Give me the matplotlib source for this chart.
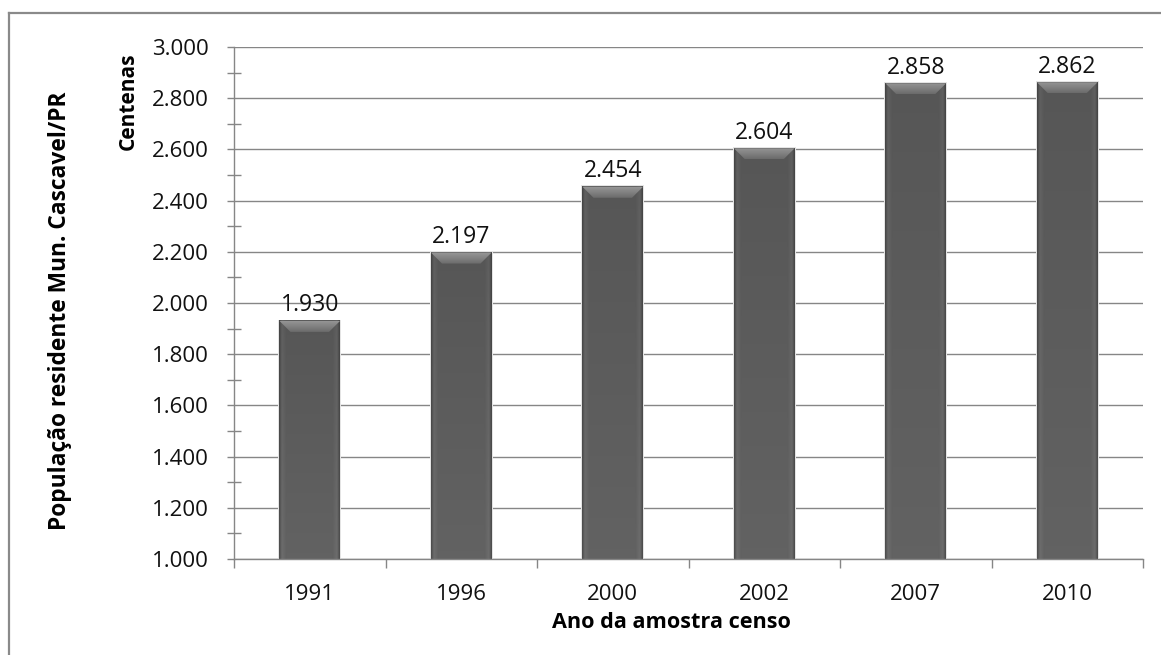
import numpy as np
import matplotlib
matplotlib.use('Agg')
import matplotlib.pyplot as plt
from matplotlib.patches import Polygon, Rectangle
from matplotlib.lines import Line2D
from matplotlib.ticker import FuncFormatter, MultipleLocator, FixedLocator

# data (population, in hundreds)
years = ['1991', '1996', '2000', '2002', '2007', '2010']
population = [1930, 2197, 2454, 2604, 2858, 2862]

y_label = 'População residente Mun. Cascavel/PR'
unit_label = 'Centenas'
x_label = 'Ano da amostra censo'

plt.rcParams['font.family'] = ['Open Sans', 'DejaVu Sans']

W, H = 1161, 655
fig = plt.figure(figsize=(W / 100, H / 100), dpi=100)
ax = fig.add_axes([234 / W, (H - 559) / H, 909 / W, 512 / H])

grey = '#868686'


def thousands(v, pos):
    return f'{int(v):,}'.replace(',', '.')


x = np.arange(len(years))
bar_w = 0.40
bars = ax.bar(x, population, width=bar_w, bottom=0, color='#5c5c5c',
              edgecolor='none', zorder=2)

# horizontal shading profile across each bar (dark edges, lighter inner strip)
t = np.linspace(0, 1, 80)
d = np.minimum(t, 1 - t)
shade = np.where(d < 0.04, 0.30 + d / 0.04 * 0.12,
                 np.where(d < 0.12, 0.43 - (d - 0.04) / 0.08 * 0.05, 0.385))
rows = np.linspace(0.88, 1.0, 40)[:, None]
img = np.clip(shade[None, :] * rows, 0, 1)
rgb = np.dstack([img, img, img])

bevel_dx = 0.073
bevel_dy = 43
bevel_grad = np.linspace(0.60, 0.42, 30)[:, None] * np.ones((1, 10))
bevel_rgb = np.dstack([bevel_grad] * 3)

for b in bars:
    x0 = b.get_x()
    x1 = x0 + b.get_width()
    top = b.get_height()
    # soft shadow
    ax.add_patch(Rectangle((x0 - 0.008, 1000), b.get_width() + 0.016, top - 1000 + 5,
                           facecolor='#e4e4e4', edgecolor='none', zorder=1.5))
    ax.imshow(rgb, extent=(x0, x1, 1000, top), aspect='auto', origin='upper',
              interpolation='bilinear', zorder=2.2)
    bevel = Polygon([(x0, top), (x1, top), (x1 - bevel_dx, top - bevel_dy),
                     (x0 + bevel_dx, top - bevel_dy)], closed=True,
                    facecolor='none', edgecolor='none')
    ax.add_patch(bevel)
    im = ax.imshow(bevel_rgb, extent=(x0, x1, top - bevel_dy, top), aspect='auto',
                   origin='upper', interpolation='bilinear', zorder=2.4)
    im.set_clip_path(bevel)
    ax.annotate(thousands(top, None), (b.get_x() + b.get_width() / 2, top),
                xytext=(0, 7), textcoords='offset points', ha='center',
                va='baseline', fontsize=16.6, color='#111111', zorder=3)

ax.set_xlim(-0.5, len(years) - 0.5)
ax.set_ylim(1000, 3000)

# y axis
ax.yaxis.set_major_locator(MultipleLocator(200))
ax.yaxis.set_minor_locator(MultipleLocator(100))
ax.yaxis.set_major_formatter(FuncFormatter(thousands))
ax.tick_params(axis='y', which='major', direction='out', length=5, width=1,
               color=grey, pad=13, labelsize=16, labelcolor='#111111')
ax.tick_params(axis='y', which='minor', direction='inout', length=10, width=1,
               color=grey)
ax.grid(axis='y', which='major', color=grey, linewidth=1.0, zorder=0)
ax.set_axisbelow(True)

# x axis: ticks between categories, labels at centers
ax.xaxis.set_major_locator(FixedLocator(np.arange(len(years) + 1) - 0.5))
ax.xaxis.set_major_formatter(FuncFormatter(lambda v, p: ''))
ax.set_xticks(x, years, minor=True)
ax.tick_params(axis='x', which='major', direction='out', length=6.5, width=1,
               color=grey)
ax.tick_params(axis='x', which='minor', length=0, pad=18, labelsize=16,
               labelcolor='#111111')

for side in ['top', 'right']:
    ax.spines[side].set_visible(False)
for side in ['left', 'bottom']:
    ax.spines[side].set_color(grey)
    ax.spines[side].set_linewidth(1.0)
    ax.spines[side].set_zorder(4)

# axis titles
fig.text(671 / W, 1 - 622 / H, x_label, ha='center', va='center',
         fontsize=15.6, fontweight='bold')
fig.text(60 / W, 1 - 311 / H, y_label, ha='center', va='center',
         rotation=90, fontsize=16.4, fontweight='bold')
fig.text(128 / W, 1 - 101 / H, unit_label, ha='center', va='center',
         rotation=90, fontsize=15, fontweight='bold')

# outer chart border (only left and top visible in the crop)
fig.add_artist(Line2D([8.5 / W, 8.5 / W], [0, 1 - 12.5 / H], color='#8a8a8a',
                      linewidth=1.6, transform=fig.transFigure))
fig.add_artist(Line2D([8.5 / W, 1], [1 - 12.5 / H, 1 - 12.5 / H], color='#8a8a8a',
                      linewidth=1.6, transform=fig.transFigure))

fig.savefig('out.png', dpi=100)
